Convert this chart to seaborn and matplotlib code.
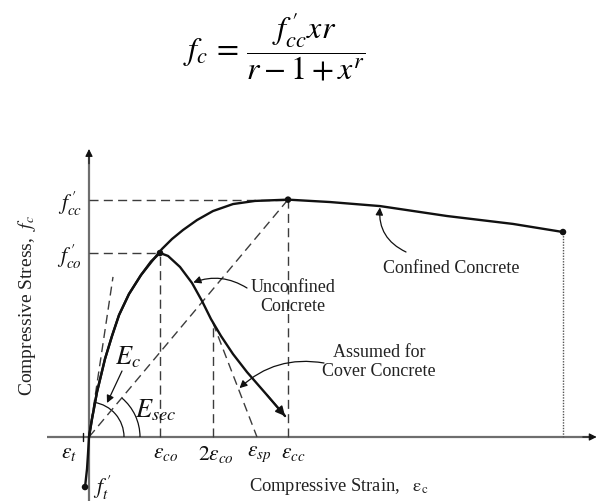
import numpy as np
import pandas as pd
import matplotlib
matplotlib.use("Agg")
import matplotlib.pyplot as plt
import matplotlib.transforms as mtransforms
from matplotlib.patches import Arc
import seaborn as sns

# Strain in units of eps_co, stress in units of f'co (schematic Mander model)
conf_strain = [0.0, 0.042, 0.113, 0.225, 0.324, 0.423, 0.563, 0.732, 0.901, 1.028,
               1.169, 1.324, 1.521, 1.746, 2.028, 2.338, 2.803, 3.394, 4.099, 5.042,
               5.972, 6.676]
conf_stress = [0.0, 0.098, 0.245, 0.424, 0.549, 0.663, 0.777, 0.880, 0.962, 1.022,
               1.076, 1.125, 1.179, 1.228, 1.266, 1.283, 1.290, 1.277, 1.255, 1.201,
               1.158, 1.114]

unconf_strain = [0.0, 0.042, 0.113, 0.225, 0.324, 0.423, 0.563, 0.732, 0.873, 1.0,
                 1.113, 1.282, 1.451, 1.592, 1.718, 1.859, 2.028, 2.225, 2.507, 2.761]
unconf_stress = [0.0, 0.098, 0.245, 0.424, 0.549, 0.663, 0.777, 0.880, 0.954, 1.0,
                 0.984, 0.924, 0.837, 0.739, 0.641, 0.549, 0.451, 0.353, 0.228, 0.114]

tens_strain = [0.0, -0.014, -0.028, -0.056]
tens_stress = [0.0, -0.092, -0.174, -0.272]

eps_t, eps_co, eps_2co, eps_sp, eps_cc, eps_cu = -0.085, 1.0, 1.746, 2.366, 2.803, 6.676
f_co, f_cc, f_cu, f_t, f_2co = 1.0, 1.290, 1.114, -0.272, 0.62
tangent_end = (0.338, 0.870)

strain_labels = [r"$\varepsilon_t$", r"$\varepsilon_{co}$", r"$2\varepsilon_{co}$",
                 r"$\varepsilon_{sp}$", r"$\varepsilon_{cc}$"]
strain_ticks = [eps_t, eps_co, eps_2co, eps_sp, eps_cc]
stress_labels = [r"$f^{\,\prime}_{cc}$", r"$f^{\,\prime}_{co}$"]
stress_ticks = [f_cc, f_co]

# ---------------------------------------------------------------- styling
sns.set_theme(style="white")
plt.rcParams["font.family"] = ["Liberation Serif", "DejaVu Serif"]
plt.rcParams["mathtext.fontset"] = "stix"

W, H = 597, 502
fig = plt.figure(figsize=(W / 100, H / 100), dpi=100)
ax = fig.add_axes([0, 0, 1, 1])
ax.set_axis_off()
PX_X, PX_Y = 71.0, 184.0          # pixels per data unit
OX, OY = 89.0, 438.0              # origin in image pixels (from top)
ax.set_xlim(-OX / PX_X, (W - OX) / PX_X)
ax.set_ylim((OY - H) / PX_Y, OY / PX_Y)


def fp(px, py):
    """image pixel (from top-left) -> figure pixels"""
    return (px, H - py)


INK = "#111111"
AXC = "#6e6e6e"
DASH = "#3c3c3c"

# ---------------------------------------------------------------- axes arrows
x0, x1 = ax.get_xlim()
y0, y1 = ax.get_ylim()
ax.plot([(47 - OX) / PX_X, x1 - 0.05], [0, 0], color=AXC, lw=1.6, solid_capstyle="butt", zorder=1)
ax.annotate("", xy=(x1 - 0.005, 0), xytext=(x1 - 0.2, 0),
            arrowprops=dict(arrowstyle="-|>", color=INK, lw=0.8, mutation_scale=11, shrinkA=0, shrinkB=0))
y_top = (OY - 150) / PX_Y
ax.plot([0, 0], [y0, y_top - 0.03], color=AXC, lw=1.6, solid_capstyle="butt", zorder=1)
ax.annotate("", xy=(0, y_top), xytext=(0, y_top - 0.08),
            arrowprops=dict(arrowstyle="-|>", color=INK, lw=0.8, mutation_scale=11, shrinkA=0, shrinkB=0))

# ---------------------------------------------------------------- reference lines
dash_kw = dict(color=DASH, lw=1.0, linestyle=(0, (6.5, 3.8)), zorder=2)
ax.plot([0, eps_cc], [f_cc, f_cc], **dash_kw)
ax.plot([0, eps_co], [f_co, f_co], **dash_kw)
ax.plot([eps_co, eps_co], [0, f_co], **dash_kw)
ax.plot([eps_2co, eps_2co], [0, f_2co], **dash_kw)
ax.plot([eps_cc, eps_cc], [0, f_cc], **dash_kw)
ax.plot([0, eps_cc], [0, f_cc], **dash_kw)                      # secant modulus
ax.plot([0, tangent_end[0]], [0, tangent_end[1]], **dash_kw)    # tangent modulus
ax.plot([eps_2co, eps_sp], [f_2co, 0], **dash_kw)               # cover concrete
ax.plot([eps_cu, eps_cu], [0, f_cu], color="#555555", lw=1.0, linestyle=(0, (1, 1)), zorder=2)
ax.plot([eps_t, eps_t], [-0.022, 0.022], color=INK, lw=1.0)

# ---------------------------------------------------------------- curves
conf = pd.DataFrame({"strain": conf_strain, "stress": conf_stress})
unconf = pd.DataFrame({"strain": unconf_strain, "stress": unconf_stress})
tens = pd.DataFrame({"strain": tens_strain, "stress": tens_stress})
for df in (conf, unconf, tens):
    sns.lineplot(data=df, x="strain", y="stress", sort=False, estimator=None,
                 color=INK, lw=1.7, ax=ax, zorder=4,
                 solid_joinstyle="round", solid_capstyle="round")
ax.set_xlim(x0, x1)
ax.set_ylim(y0, y1)
ax.set_axis_off()

ax.annotate("", xy=(unconf_strain[-1], unconf_stress[-1]),
            xytext=(unconf_strain[-2], unconf_stress[-2]),
            arrowprops=dict(arrowstyle="-|>", color=INK, lw=1.2, mutation_scale=14,
                            shrinkA=0, shrinkB=0), zorder=5)

pts = pd.DataFrame({"strain": [eps_co, eps_cc, eps_cu, tens_strain[-1]],
                    "stress": [f_co, f_cc, f_cu, tens_stress[-1]]})
sns.scatterplot(data=pts, x="strain", y="stress", color=INK, s=22, edgecolor="none",
                ax=ax, zorder=6)

# ---------------------------------------------------------------- moduli arcs
arc_tr = fig.dpi_scale_trans + mtransforms.ScaledTranslation(0, 0, ax.transData)
ang_tan = np.degrees(np.arctan2(tangent_end[1] * PX_Y, tangent_end[0] * PX_X))
ang_sec = np.degrees(np.arctan2(f_cc * PX_Y, eps_cc * PX_X))
ax.add_patch(Arc((0, 0), 0.70, 0.70, theta1=0, theta2=ang_tan, transform=arc_tr,
                 color=INK, lw=0.9))
ax.add_patch(Arc((0, 0), 1.02, 1.02, theta1=0, theta2=ang_sec, transform=arc_tr,
                 color=INK, lw=0.9))

# ---------------------------------------------------------------- tick-like labels
lab_fs = 15.5
strain_dx = [-14, 6, 3, 2, 5]
for t, lab, dx in zip(strain_ticks, strain_labels, strain_dx):
    ax.annotate(lab, xy=(t, 0), xytext=(dx / 1.389, -4.5), textcoords="offset points",
                ha="center", va="top", fontsize=lab_fs, color=INK)
for t, lab in zip(stress_ticks, stress_labels):
    ax.annotate(lab, xy=(0, t), xytext=(-7 / 1.389, -2), textcoords="offset points",
                ha="right", va="center", fontsize=lab_fs, color=INK)
ax.annotate(r"$f^{\,\prime}_{t}$", xy=(0, f_t), xytext=(3, 0), textcoords="offset points",
            ha="left", va="center", fontsize=lab_fs, color=INK)

ax.annotate(r"$E_c$", xy=fp(128, 357), xycoords="figure pixels", ha="center", va="center",
            fontsize=19, color=INK)
ax.annotate(r"$E_{sec}$", xy=fp(156, 410), xycoords="figure pixels", ha="center", va="center",
            fontsize=19, color=INK)
ax.annotate("", xy=fp(107, 404), xycoords="figure pixels", xytext=fp(122, 372),
            textcoords="figure pixels",
            arrowprops=dict(arrowstyle="-|>", color=INK, lw=0.9, mutation_scale=11,
                            shrinkA=0, shrinkB=0))

# ---------------------------------------------------------------- annotations
txt_fs = 13
txt_col = "#222222"
fig.text(293 / W, 1 - 297 / H, "Unconfined\nConcrete", ha="center", va="center",
         fontsize=txt_fs, color=txt_col, linespacing=1.15)
fig.text(451 / W, 1 - 269 / H, "Confined Concrete", ha="center", va="center",
         fontsize=txt_fs, color=txt_col)
fig.text(379 / W, 1 - 362 / H, "Assumed for\nCover Concrete", ha="center", va="center",
         fontsize=txt_fs, color=txt_col, linespacing=1.15)

arr = dict(arrowstyle="-|>", color=INK, lw=0.9, mutation_scale=11, shrinkA=0, shrinkB=1)
ax.annotate("", xy=(unconf_strain[12], unconf_stress[12]), xytext=fp(247, 289),
            textcoords="figure pixels", arrowprops=dict(**arr, connectionstyle="arc3,rad=0.25"))
ax.annotate("", xy=(conf_strain[18], conf_stress[18]), xytext=fp(406, 253),
            textcoords="figure pixels", arrowprops=dict(**arr, connectionstyle="arc3,rad=-0.35"))
cover_pt = (eps_2co + 0.58 * (eps_sp - eps_2co), f_2co * (1 - 0.58))
ax.annotate("", xy=cover_pt, xytext=fp(324, 364),
            textcoords="figure pixels", arrowprops=dict(**arr, connectionstyle="arc3,rad=0.25"))

# ---------------------------------------------------------------- axis titles and formula
fig.text(339 / W, 1 - 487 / H, r"Compressive Strain,   $\mathrm{\varepsilon_c}$",
         ha="center", va="center", fontsize=13.3, color=txt_col)
fig.text(27 / W, 1 - 305 / H, r"Compressive Stress,  $f_c$", rotation=90,
         ha="center", va="center", fontsize=14, color=txt_col)
fig.text(274.5 / W, 1 - 47 / H, r"$f_c\,=\,\dfrac{f^{\,\prime}_{cc}xr}{r-1+x^{r}}$",
         ha="center", va="center", fontsize=23, color="black")

fig.savefig("out.png", dpi=100, facecolor="white")
